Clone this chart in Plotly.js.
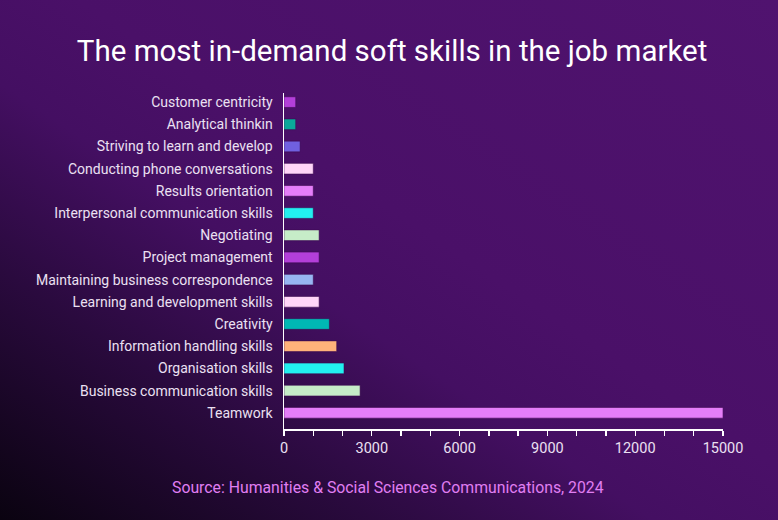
<!DOCTYPE html>
<html>
<head>
<meta charset="utf-8">
<script src="https://cdn.plot.ly/plotly-3.0.1.min.js"></script>
<style>
  html, body { margin:0; padding:0; width:778px; height:520px; overflow:hidden; }
  body { background: linear-gradient(to top right, #0a0310 0%, #2a0a3e 24%, #440f62 42%, #4a1068 55%, #50136f 100%); }
  #chart { width:778px; height:520px; }
</style>
</head>
<body>
<div id="chart"></div>
<script>
// Categories listed bottom-to-top (Plotly draws the first category at the bottom)
const skills = [
  "Teamwork",
  "Business communication skills",
  "Organisation skills",
  "Information handling skills",
  "Creativity",
  "Learning and development skills",
  "Maintaining business correspondence",
  "Project management",
  "Negotiating",
  "Interpersonal communication skills",
  "Results orientation",
  "Conducting phone conversations",
  "Striving to learn and develop",
  "Analytical thinkin",
  "Customer centricity"
];
const demand = [15000, 2600, 2050, 1800, 1550, 1200, 1000, 1200, 1200, 1000, 1000, 1000, 550, 400, 400];
const barColors = [
  "#e57ef9", "#c6ecc8", "#22f0f0", "#ffb27a", "#00b8b4",
  "#ffd5f8", "#97b5f2", "#b33fd9", "#c6ecc8", "#22f0f0",
  "#e57ef9", "#ffd5f8", "#7060e0", "#0aa89a", "#b33fd9"
];
const tickValues = [0,1000,2000,3000,4000,5000,6000,7000,8000,9000,10000,11000,12000,13000,14000,15000];
const tickLabels = ["0","","","3000","","","6000","","","9000","","","12000","","","15000"];

const labelFont = { family: "Roboto, sans-serif", size: 14, color: "#ebe0f2" };

const data = [{
  type: "bar",
  orientation: "h",
  y: skills,
  x: demand,
  width: 0.48,
  marker: { color: barColors, line: { color: "rgba(60,10,80,0.55)", width: 1 } },
  hoverinfo: "x+y"
}];

const layout = {
  width: 778, height: 520,
  paper_bgcolor: "rgba(0,0,0,0)",
  plot_bgcolor: "rgba(0,0,0,0)",
  margin: { l: 284, r: 55, t: 93, b: 91 },
  showlegend: false,
  title: {
    text: "The most in-demand soft skills in the job market",
    font: { family: "Roboto, sans-serif", size: 29.5, color: "#ffffff" },
    x: 0.504, xanchor: "center", y: 0.903, yanchor: "middle"
  },
  xaxis: {
    range: [0, 15000],
    tickmode: "array", tickvals: tickValues, ticktext: tickLabels,
    ticks: "outside", ticklen: 5, tickwidth: 1.3, tickcolor: "#ffffff",
    showline: true, linecolor: "#ffffff", linewidth: 1.5,
    showgrid: false, zeroline: false,
    tickfont: { family: "Roboto, sans-serif", size: 14.5, color: "#ebe0f2" },
    fixedrange: true
  },
  xaxis2: {
    overlaying: "x", anchor: "y", side: "bottom",
    range: [0, 15000],
    tickmode: "array", tickvals: tickValues,
    ticks: "inside", ticklen: 4, tickwidth: 1.3, tickcolor: "#ffffff",
    showticklabels: false, showline: false, showgrid: false, zeroline: false
  },
  yaxis: {
    type: "category",
    categoryorder: "array", categoryarray: skills,
    range: [-0.73, 14.41],
    ticks: "outside", ticklen: 7, tickcolor: "rgba(0,0,0,0)",
    showline: true, linecolor: "#ffffff", linewidth: 1.5,
    showgrid: false, zeroline: false,
    tickfont: labelFont,
    fixedrange: true
  },
  annotations: [{
    text: "Source: Humanities & Social Sciences Communications, 2024",
    xref: "paper", yref: "paper",
    x: 0.238, xanchor: "center",
    y: -0.175, yanchor: "middle",
    showarrow: false,
    font: { family: "Roboto, sans-serif", size: 15.8, color: "#e07ef2" }
  }]
};

Plotly.newPlot("chart", data, layout, { displayModeBar: false, staticPlot: true });
</script>
</body>
</html>
